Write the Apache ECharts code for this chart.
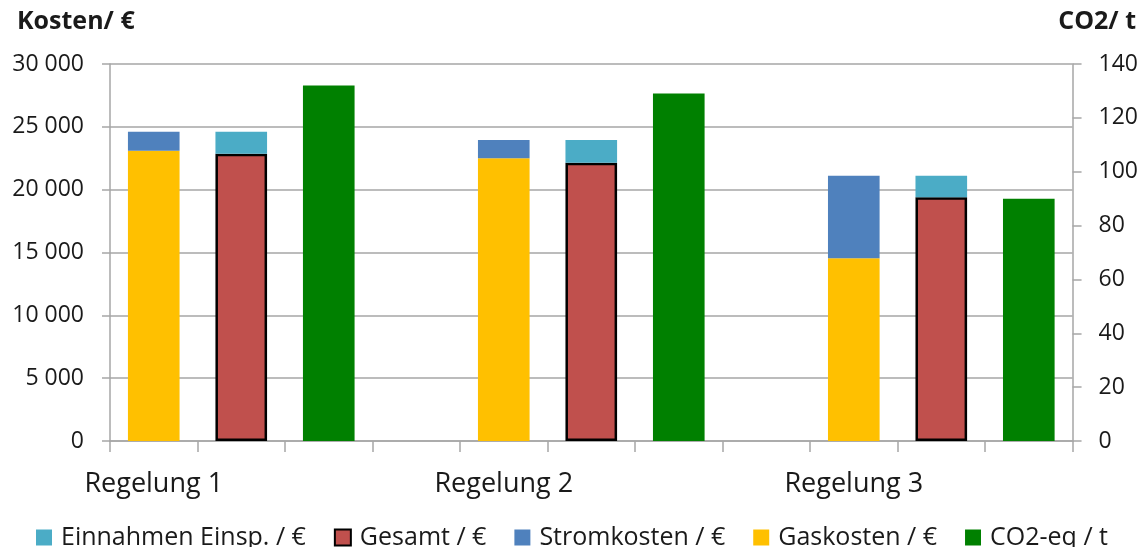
<!DOCTYPE html>
<html>
<head>
<meta charset="utf-8">
<script src="https://cdn.jsdelivr.net/npm/echarts@6/dist/echarts.min.js"></script>
<style>
  html, body { margin: 0; padding: 0; background: #fff; }
  #chart { width: 1141px; height: 547px; }
</style>
</head>
<body>
<div id="chart"></div>
<script>
// Eleven slots on the category axis: three bars per control variant plus a spacer.
const categories = ['Regelung 1', '', '', '', 'Regelung 2', '', '', '', 'Regelung 3', '', ''];

// Values per variant (Regelung 1, 2, 3)
const gaskosten  = [23100, 22500, 14550];   // €
const stromkosten = [1500, 1450, 6550];     // €
const gesamt     = [22850, 22150, 19400];   // €
const einnahmen  = [1750, 1800, 1700];      // €
const co2        = [132, 129, 90];          // t

const leftTicks = { min: 0, max: 30000, interval: 5000 };
const rightTicks = { min: 0, max: 140, interval: 20 };

// Slot offsets inside each variant group
const GROUP = 4;
function place(values, offset) {
  const out = categories.map(() => '-');
  values.forEach((v, i) => { out[i * GROUP + offset] = v; });
  return out;
}

const FONT = 'Open Sans';
const TXT = '#1a1a1a';
const AXIS = '#a6a6a6';

const chart = echarts.init(document.getElementById('chart'), null, { renderer: 'canvas' });

chart.setOption({
  animation: false,
  textStyle: { fontFamily: FONT },
  grid: { left: 110, right: 67, top: 64, bottom: 106, containLabel: false },
  graphic: [
    { type: 'text', left: 17, top: 9, style: { text: 'Kosten/ €', fontFamily: FONT, fontWeight: 'bold', fontSize: 25, fill: TXT } },
    { type: 'text', right: 5, top: 9, style: { text: 'CO2/ t', fontFamily: FONT, fontWeight: 'bold', fontSize: 25, fill: TXT } }
  ],
  legend: {
    data: ['Einnahmen Einsp. / €', 'Gesamt / €', 'Stromkosten / €', 'Gaskosten / €', 'CO2-eq / t'],
    left: 36,
    top: 525,
    padding: 0,
    itemWidth: 16,
    itemHeight: 16,
    itemGap: 28,
    icon: 'rect',
    textStyle: { fontFamily: FONT, fontSize: 25, color: TXT, padding: [0, 0, 0, 4] }
  },
  xAxis: {
    type: 'category',
    data: categories,
    boundaryGap: true,
    axisLine: { lineStyle: { color: AXIS, width: 1.5 } },
    axisTick: { show: true, interval: 0, length: 11, lineStyle: { color: AXIS, width: 1.5 } },
    axisLabel: { interval: 0, margin: 30, fontFamily: FONT, fontSize: 27, color: TXT }
  },
  yAxis: [
    {
      type: 'value',
      min: leftTicks.min, max: leftTicks.max, interval: leftTicks.interval,
      axisLine: { show: true, lineStyle: { color: AXIS, width: 1.5 } },
      axisTick: { show: true, length: 8, lineStyle: { color: AXIS, width: 1.5 } },
      splitLine: { show: true, lineStyle: { color: AXIS, width: 1.5 } },
      axisLabel: {
        margin: 26, fontFamily: FONT, fontSize: 23, color: TXT,
        formatter: v => String(v).replace(/\B(?=(\d{3})+(?!\d))/g, ' ')
      }
    },
    {
      type: 'value',
      position: 'right',
      min: rightTicks.min, max: rightTicks.max, interval: rightTicks.interval,
      axisLine: { show: true, lineStyle: { color: AXIS, width: 1.5 } },
      axisTick: { show: true, length: 9, lineStyle: { color: AXIS, width: 1.5 } },
      splitLine: { show: false },
      axisLabel: { margin: 26, fontFamily: FONT, fontSize: 23, color: TXT }
    }
  ],
  series: [
    {
      name: 'Gaskosten / €', type: 'bar', stack: 'k', barCategoryGap: '41%',
      data: place(gaskosten, 0),
      itemStyle: { color: '#FFC000' }
    },
    {
      name: 'Stromkosten / €', type: 'bar', stack: 'k',
      data: place(stromkosten, 0),
      itemStyle: { color: '#4F81BD' }
    },
    {
      name: 'Gesamt / €', type: 'bar', stack: 'k',
      data: place(gesamt, 1),
      itemStyle: { color: '#C0504D', borderColor: '#000', borderWidth: 2.5 }
    },
    {
      name: 'Einnahmen Einsp. / €', type: 'bar', stack: 'k',
      data: place(einnahmen, 1),
      itemStyle: { color: '#4BACC6' }
    },
    {
      name: 'CO2-eq / t', type: 'bar', stack: 'k', yAxisIndex: 1,
      data: place(co2, 2),
      itemStyle: { color: '#008000' }
    }
  ]
});
</script>
</body>
</html>
